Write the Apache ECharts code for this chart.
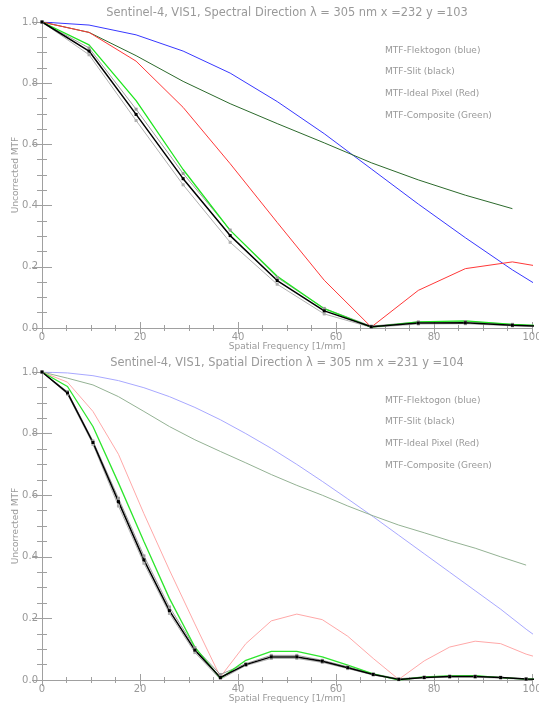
<!DOCTYPE html>
<html>
<head>
<meta charset="utf-8">
<script src="https://cdn.jsdelivr.net/npm/echarts@6/dist/echarts.min.js"></script>
<style>
  html, body { margin: 0; padding: 0; background: #fff; }
  #chart { width: 539px; height: 704px; }
</style>
</head>
<body>
<div id="chart"></div>
<script>
// spectral direction (upper plot)
const specFreq = [0, 9.6, 19.2, 28.8, 38.4, 48, 57.6, 67.2, 76.8, 86.4, 96, 105.6];
const specFlektogon = [1.0, 0.99, 0.958, 0.905, 0.833, 0.74, 0.635, 0.52, 0.405, 0.295, 0.19, 0.095];
const specSlit = [1.0, 0.966, 0.89, 0.806, 0.733, 0.668, 0.605, 0.54, 0.484, 0.434, 0.39];
const specPixel = [1.0, 0.966, 0.872, 0.721, 0.537, 0.345, 0.156, 0.003, 0.123, 0.194, 0.216, 0.19];
const specComposite = [1.0, 0.925, 0.743, 0.518, 0.319, 0.169, 0.063, 0.003, 0.02, 0.023, 0.012, 0.005];
const specMeasHigh = [1.0, 0.915, 0.715, 0.505, 0.32, 0.165, 0.064, 0.006, 0.02, 0.021, 0.012, 0.005];
const specMeasLow = [1.0, 0.893, 0.678, 0.468, 0.28, 0.143, 0.046, 0.002, 0.013, 0.014, 0.007, 0.003];
const specMeas = [1.0, 0.905, 0.698, 0.488, 0.302, 0.155, 0.056, 0.004, 0.016, 0.017, 0.009, 0.004];

// spatial direction (lower plot)
const spatFreq = [0, 5.2, 10.4, 15.6, 20.8, 26, 31.2, 36.4, 41.6, 46.8, 52, 57.2, 62.4, 67.6, 72.8, 78, 83.2, 88.4, 93.6, 98.8, 104];
const spatFlektogon = [1.0, 0.997, 0.988, 0.972, 0.949, 0.92, 0.885, 0.845, 0.8, 0.752, 0.7, 0.645, 0.588, 0.53, 0.47, 0.41, 0.35, 0.29, 0.23, 0.165, 0.105];
const spatSlit = [1.0, 0.98, 0.958, 0.92, 0.872, 0.823, 0.78, 0.742, 0.705, 0.667, 0.632, 0.6, 0.565, 0.533, 0.503, 0.478, 0.452, 0.428, 0.4, 0.373];
const spatPixel = [1.0, 0.967, 0.872, 0.733, 0.54, 0.357, 0.182, 0.01, 0.118, 0.192, 0.214, 0.196, 0.142, 0.07, 0.002, 0.062, 0.107, 0.126, 0.118, 0.084, 0.06];
const spatComposite = [1.0, 0.953, 0.823, 0.64, 0.45, 0.265, 0.107, 0.005, 0.064, 0.093, 0.093, 0.075, 0.048, 0.02, 0.0, 0.01, 0.013, 0.014, 0.008, 0.003, 0.001];
const spatMeasHigh = [1.0, 0.936, 0.776, 0.59, 0.403, 0.237, 0.105, 0.018, 0.053, 0.08, 0.08, 0.064, 0.043, 0.02, 0.004, 0.01, 0.013, 0.013, 0.009, 0.004, 0.002];
const spatMeasLow = [1.0, 0.928, 0.765, 0.565, 0.379, 0.216, 0.089, 0.002, 0.047, 0.07, 0.07, 0.057, 0.037, 0.016, 0.001, 0.007, 0.009, 0.009, 0.006, 0.002, 0.001];
const spatMeas = [1.0, 0.932, 0.771, 0.579, 0.39, 0.225, 0.097, 0.008, 0.05, 0.075, 0.075, 0.061, 0.04, 0.018, 0.002, 0.008, 0.011, 0.011, 0.008, 0.003, 0.001];

const titles = [
  "Sentinel-4, VIS1, Spectral Direction \u03bb = 305 nm x =232 y =103",
  "Sentinel-4, VIS1, Spatial Direction \u03bb = 305 nm x =231 y =104"
];
const legendLines = ["MTF-Flektogon (blue)", "MTF-Slit (black)", "MTF-Ideal Pixel (Red)", "MTF-Composite (Green)"];
const xName = "Spatial Frequency [1/mm]";
const yName = "Uncorrected MTF";

const AXIS = "#a0a0a0";
const TEXT = "#999999";
const FONT = "DejaVu Sans";

const zip = (xs, ys) => ys.map((v, i) => [xs[i], v]);

const grids = [
  { left: 42, width: 490, top: 22, height: 306, outerBoundsMode: "none", containLabel: false },
  { left: 42, width: 490, top: 372, height: 308, outerBoundsMode: "none", containLabel: false }
];

// box axes, ticks point into the plot
const xAxes = [];
const yAxes = [];
grids.forEach((g, i) => {
  const base = {
    type: "value", gridIndex: i, min: 0, max: 100, interval: 20,
    axisLine: { lineStyle: { color: AXIS, width: 1 } },
    axisTick: { inside: true, length: 6, lineStyle: { color: AXIS } },
    minorTick: { show: true, splitNumber: 4, length: 3, lineStyle: { color: AXIS } },
    splitLine: { show: false }
  };
  xAxes.push(Object.assign({}, base, {
    position: "bottom",
    axisLabel: { color: TEXT, fontFamily: FONT, fontSize: 10, margin: 4 },
    name: xName, nameLocation: "middle", nameGap: 14, nameMoveOverlap: false,
    nameTextStyle: { color: TEXT, fontFamily: FONT, fontSize: 9 }
  }));
  xAxes.push(Object.assign({}, base, {
    position: "top",
    axisLabel: { show: false },
    name: titles[i], nameLocation: "middle", nameGap: 3,
    nameTextStyle: { color: TEXT, fontFamily: FONT, fontSize: 11.4 }
  }));
  const ybase = {
    type: "value", gridIndex: i, min: 0, max: 1, interval: 0.2,
    axisLine: { show: true, lineStyle: { color: AXIS, width: 1 } },
    axisTick: { show: true, inside: true, length: 10, lineStyle: { color: AXIS } },
    minorTick: { show: true, splitNumber: 4, length: 5, lineStyle: { color: AXIS } },
    splitLine: { show: false }
  };
  yAxes.push(Object.assign({}, ybase, {
    position: "left",
    axisLabel: { color: TEXT, fontFamily: FONT, fontSize: 10, margin: 4, formatter: v => v.toFixed(1) },
    name: yName, nameLocation: "middle", nameGap: 22, nameMoveOverlap: false,
    nameTextStyle: { color: TEXT, fontFamily: FONT, fontSize: 9 }
  }));
  yAxes.push(Object.assign({}, ybase, {
    position: "right",
    axisLabel: { show: false }
  }));
});

function line(i, xs, ys, color, width, extra) {
  return Object.assign({
    type: "line", xAxisIndex: i * 2, yAxisIndex: i * 2,
    data: zip(xs, ys), showSymbol: false, symbol: "none",
    lineStyle: { color: color, width: width }, itemStyle: { color: color },
    silent: true, animation: false
  }, extra || {});
}

const marks = { showSymbol: true, symbol: "rect", symbolSize: 3 };

const series = [
  line(0, specFreq, specFlektogon, "#3838ff", 1),
  line(0, specFreq, specSlit, "#2c6a2c", 1),
  line(0, specFreq, specPixel, "#ff3838", 1),
  line(0, specFreq, specMeasHigh, "#9a9a9a", 1, marks),
  line(0, specFreq, specMeasLow, "#b0b0b0", 1, marks),
  line(0, specFreq, specComposite, "#1ee61e", 1.3),
  line(0, specFreq, specMeas, "#000000", 1.5, marks),

  line(1, spatFreq, spatFlektogon, "#a8a8ff", 1),
  line(1, spatFreq, spatSlit, "#94b294", 1),
  line(1, spatFreq, spatPixel, "#ffa8a8", 1),
  line(1, spatFreq, spatMeasHigh, "#9a9a9a", 1, marks),
  line(1, spatFreq, spatMeasLow, "#b0b0b0", 1, marks),
  line(1, spatFreq, spatComposite, "#2ee62e", 1.3),
  line(1, spatFreq, spatMeas, "#000000", 1.5, marks)
];

const graphic = [];
grids.forEach((g, i) => {
  legendLines.forEach((t, k) => {
    graphic.push({
      type: "text", left: 385, top: g.top + 24 + k * 21.6,
      style: { text: t, fill: TEXT, font: "9px '" + FONT + "'" }, silent: true
    });
  });
});

const chart = echarts.init(document.getElementById("chart"), null, { renderer: "canvas" });
chart.setOption({
  animation: false,
  backgroundColor: "#ffffff",
  grid: grids,
  xAxis: xAxes,
  yAxis: yAxes,
  series: series,
  graphic: graphic
});
</script>
</body>
</html>
